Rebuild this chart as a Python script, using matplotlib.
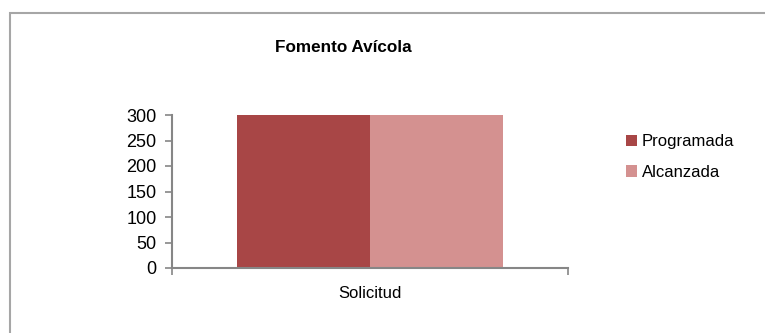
import matplotlib.pyplot as plt
from matplotlib.patches import Rectangle

plt.rcParams['font.family'] = ['Liberation Sans', 'DejaVu Sans']

# Data
categories = ["Solicitud"]
series = ["Programada", "Alcanzada"]
programada = [300]
alcanzada = [300]
colors = ["#A84646", "#D49190"]

fig = plt.figure(figsize=(7.65, 3.33), dpi=100)
ax = fig.add_axes([172/765, 1-268/333, 396/765, 153/333])

# outer frame (only top/left visible in the reference)
fig.patches.append(Rectangle((10/765, -0.1), 2.0, (333-13)/333 + 0.1,
                             transform=fig.transFigure, fill=False,
                             edgecolor="#A6A6A6", linewidth=1.5))

w = 0.336
x = list(range(len(categories)))
ax.bar([i - w/2 for i in x], programada, width=w, color=colors[0], label=series[0])
ax.bar([i + w/2 for i in x], alcanzada, width=w, color=colors[1], label=series[1])

ax.set_xlim(-0.5, 0.5)
ax.set_ylim(0, 300)
ax.set_yticks(range(0, 301, 50))
ax.set_xticks([-0.5, 0.5])
ax.set_xticklabels([])
ax.tick_params(axis="x", length=5, color="#868686", width=1.2)
ax.tick_params(axis="y", length=5, color="#868686", width=1.2, labelsize=13, pad=6)
for i, c in enumerate(categories):
    ax.text(i, -25/153, c, transform=ax.get_xaxis_transform(), ha="center", va="center",
            fontsize=12)
for s in ["top", "right"]:
    ax.spines[s].set_visible(False)
for s in ["left", "bottom"]:
    ax.spines[s].set_color("#868686")
    ax.spines[s].set_linewidth(1.5)

fig.text(343/765, 1-47/333, "Fomento Avícola", ha="center", va="center",
         fontsize=12.3, fontweight="bold")

ax.legend(loc="upper left", bbox_to_anchor=(626/765, 1-134/333), bbox_transform=fig.transFigure,
          frameon=False, fontsize=12, handlelength=0.65, handleheight=0.65,
          handletextpad=0.3, labelspacing=0.95, borderaxespad=0, borderpad=0)

fig.savefig("out.png", dpi=100)
